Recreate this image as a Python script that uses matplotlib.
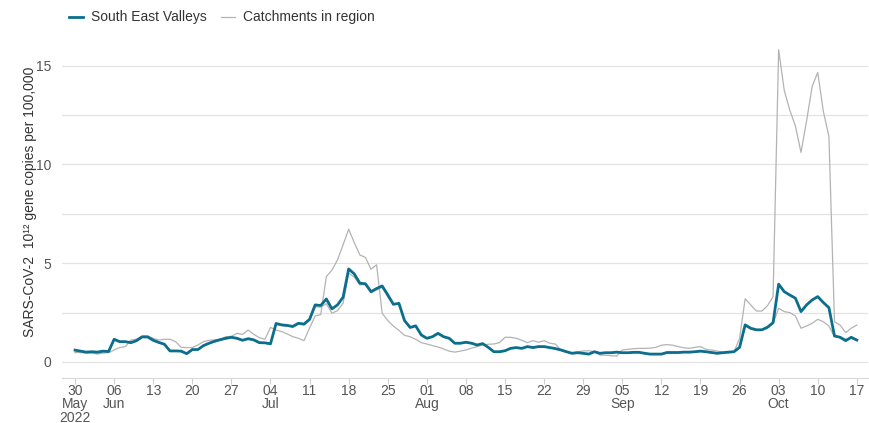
import numpy as np
import pandas as pd
import matplotlib
matplotlib.use("Agg")
import matplotlib.pyplot as plt
from matplotlib.lines import Line2D

plt.rcParams['font.family'] = ['Liberation Sans', 'DejaVu Sans']

START = "2022-05-30"

# daily values, 30 May 2022 .. 17 Oct 2022 (141 days)
south_east_valleys = [
    0.60, 0.55, 0.50, 0.52, 0.50, 0.55, 0.53,
    1.15, 1.03, 1.03, 0.98, 1.08, 1.27, 1.27,
    1.10, 0.99, 0.90, 0.56, 0.56, 0.55, 0.42,
    0.63, 0.63, 0.83, 0.95, 1.05, 1.13, 1.20,
    1.25, 1.20, 1.10, 1.18, 1.12, 0.98, 0.97,
    0.92, 1.95, 1.88, 1.85, 1.80, 1.96, 1.92,
    2.16, 2.89, 2.86, 3.19, 2.69, 2.89, 3.28,
    4.71, 4.46, 3.99, 3.96, 3.56, 3.72, 3.85,
    3.40, 2.92, 2.97, 2.10, 1.75, 1.83, 1.37,
    1.20, 1.28, 1.45, 1.28, 1.20, 0.95, 0.95,
    1.00, 0.95, 0.86, 0.93, 0.74, 0.52, 0.52,
    0.57, 0.69, 0.73, 0.69, 0.78, 0.73, 0.78,
    0.78, 0.73, 0.68, 0.61, 0.52, 0.44, 0.47,
    0.44, 0.40, 0.52, 0.44, 0.47, 0.47, 0.50,
    0.47, 0.47, 0.49, 0.49, 0.44, 0.40, 0.40,
    0.40, 0.48, 0.48, 0.48, 0.50, 0.50, 0.52,
    0.55, 0.52, 0.48, 0.44, 0.47, 0.50, 0.52,
    0.74, 1.88, 1.71, 1.63, 1.63, 1.76, 1.99,
    3.94, 3.56, 3.39, 3.23, 2.55, 2.89, 3.14,
    3.31, 3.01, 2.75, 1.32, 1.25, 1.08, 1.25,
    1.11,
]

catchment_a = [
    0.50, 0.47, 0.47, 0.45, 0.40, 0.45, 0.47,
    0.61, 0.73, 0.78, 1.11, 1.15, 1.32, 1.32,
    1.20, 1.11, 1.15, 1.15, 1.03, 0.74, 0.73,
    0.73, 0.86, 1.03, 1.10, 1.12, 1.15, 1.28,
    1.30, 1.45, 1.40, 1.62, 1.40, 1.23, 1.15,
    1.75, 1.62, 1.54, 1.42, 1.28, 1.20, 1.08,
    1.72, 2.33, 2.40, 4.32, 4.65, 5.17, 5.93,
    6.72, 6.05, 5.42, 5.29, 4.70, 4.92, 2.47,
    2.10, 1.82, 1.60, 1.35, 1.28, 1.15, 0.98,
    0.91, 0.83, 0.76, 0.66, 0.55, 0.50, 0.55,
    0.61, 0.70, 0.78, 0.86, 0.90, 0.91, 0.98,
    1.25, 1.25, 1.20, 1.10, 0.98, 1.08, 1.00,
    1.08, 0.95, 0.91, 0.61, 0.49, 0.47, 0.52,
    0.56, 0.57, 0.52, 0.35, 0.34, 0.32, 0.30,
    0.61, 0.64, 0.67, 0.69, 0.69, 0.70, 0.74,
    0.85, 0.88, 0.85, 0.78, 0.72, 0.69, 0.74,
    0.78, 0.64, 0.61, 0.55, 0.50, 0.47, 0.50,
    1.20, 3.20, 2.89, 2.58, 2.58, 2.85, 3.30,
    15.81, 13.75, 12.75, 11.95, 10.61, 12.20, 13.95,
    14.66, 12.69, 11.42, 2.04, 1.87, 1.49, 1.71,
    1.87,
]

catchment_b = [
    0.47, 0.50, 0.45, 0.48, 0.45, 0.50, 0.50,
    1.10, 1.00, 1.00, 0.95, 1.05, 1.24, 1.24,
    1.07, 0.97, 0.88, 0.55, 0.54, 0.53, 0.42,
    0.62, 0.62, 0.80, 0.93, 1.02, 1.10, 1.17,
    1.22, 1.17, 1.08, 1.15, 1.10, 0.96, 0.95,
    0.90, 1.90, 1.84, 1.82, 1.76, 1.92, 1.88,
    2.10, 2.80, 2.78, 2.95, 2.47, 2.60, 2.97,
    4.50, 4.30, 3.90, 3.92, 3.50, 3.65, 3.78,
    3.30, 2.95, 2.95, 2.10, 1.72, 1.80, 1.35,
    1.18, 1.26, 1.42, 1.26, 1.18, 0.93, 0.93,
    0.98, 0.93, 0.84, 0.91, 0.72, 0.50, 0.50,
    0.55, 0.67, 0.71, 0.67, 0.76, 0.71, 0.76,
    0.76, 0.71, 0.66, 0.59, 0.50, 0.42, 0.45,
    0.42, 0.38, 0.50, 0.42, 0.45, 0.45, 0.48,
    0.45, 0.45, 0.47, 0.47, 0.42, 0.38, 0.38,
    0.38, 0.46, 0.46, 0.46, 0.48, 0.48, 0.50,
    0.53, 0.50, 0.46, 0.42, 0.45, 0.48, 0.50,
    0.72, 1.82, 1.65, 1.60, 1.60, 1.72, 1.95,
    2.72, 2.55, 2.50, 2.33, 1.71, 1.82, 1.96,
    2.16, 2.04, 1.82, 1.28, 1.28, 1.15, 1.20,
    1.10,
]

TEAL = "#0b6e8c"
GREY = "#b3b3b3"

dates = pd.date_range(START, periods=len(south_east_valleys), freq="D")

fig = plt.figure(figsize=(8.7, 4.23), dpi=100)
ax = fig.add_axes([0.0713, 0.1064, 0.9264, 0.799])

for s in (catchment_a, catchment_b):
    ax.plot(dates, s, color=GREY, lw=0.9, zorder=2)
ax.plot(dates, south_east_valleys, color=TEAL, lw=2.0, zorder=3)

ax.set_ylim(-0.81, 16.3)
ax.set_xlim(dates[0] - pd.Timedelta(days=2.33), dates[-1] + pd.Timedelta(days=2.0))

ax.set_yticks([0, 5, 10, 15])
ax.set_yticks([2.5, 7.5, 12.5], minor=True)
ax.grid(axis="y", which="both", color="#e3e3e3", lw=0.9)
ax.tick_params(axis="y", which="both", length=0, labelsize=10, labelcolor="#555555", pad=8)

# weekly ticks with day / month / year labels
ticks = pd.date_range(START, dates[-1], freq="7D")
labels = []
prev_month = None
for i, t in enumerate(ticks):
    lab = t.strftime("%d")
    if t.month != prev_month:
        lab += "\n" + t.strftime("%b")
        prev_month = t.month
    if i == 0:
        lab += "\n" + t.strftime("%Y")
    labels.append(lab)
ax.set_xticks(ticks)
ax.set_xticklabels(labels)
ax.tick_params(axis="x", length=4, color="#cfcfcf", labelsize=10, labelcolor="#555555", pad=0)
for lbl in ax.get_xticklabels():
    lbl.set_linespacing(0.96)

for sp in ("top", "right", "left"):
    ax.spines[sp].set_visible(False)
ax.spines["bottom"].set_color("#d9d9d9")

ax.set_ylabel("SARS-CoV-2  10¹² gene copies per 100,000", fontsize=10, color="#333333")
ax.yaxis.set_label_coords(-0.031, 0.52)

handles = [Line2D([], [], color=TEAL, lw=2.0), Line2D([], [], color=GREY, lw=0.9)]
fig.legend(handles, ["South East Valleys", "Catchments in region"], loc="upper left",
           bbox_to_anchor=(0.065, 1.005), ncol=2, frameon=False, fontsize=10,
           handlelength=1.0, handletextpad=0.6, columnspacing=1.0, labelcolor="#333333")

fig.savefig("out.png", dpi=100)
